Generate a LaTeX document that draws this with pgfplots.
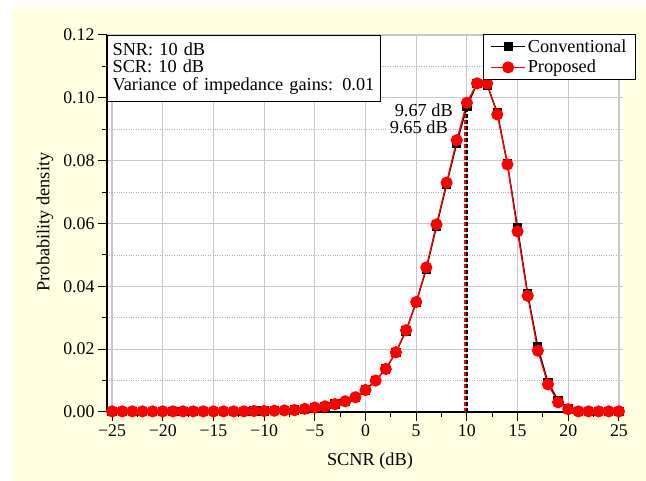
\documentclass[border=0pt]{standalone}
\usepackage{fontspec}
\setmainfont{Liberation Serif}
\usepackage{pgfplots}
\pgfplotsset{compat=1.18}
\definecolor{bgyellow}{RGB}{255,255,226}
\definecolor{gridgray}{RGB}{200,200,200}
\newcommand{\lbl}{\fontsize{18.3}{17.5}\selectfont}
\newcommand{\tlbl}{\fontsize{17.8}{18}\selectfont}

\begin{document}
\begin{tikzpicture}
\path[use as bounding box] (0pt,0pt) rectangle (646pt,481pt);
\fill[bgyellow] (12pt,0pt) rectangle (646pt,474pt);
\begin{axis}[
  at={(107pt,69pt)}, anchor=south west,
  scale only axis, width=516pt, height=377pt,
  xmin=-25.5, xmax=25.4, ymin=0, ymax=0.12,
  clip=false,
  axis background/.style={fill=white},
  axis x line*=bottom, axis y line*=left,
  axis line style={black, line width=1.2pt, -},
  tick align=outside,
  major tick length=9pt, minor tick length=5pt,
  tick style={black, line width=1pt},
  xtick={-25,-20,-15,-10,-5,0,5,10,15,20,25},
  xticklabels={−25,−20,−15,−10,−5,0,5,10,15,20,25},
  ytick={0,0.02,0.04,0.06,0.08,0.10,0.12},
  yticklabels={0.00,0.02,0.04,0.06,0.08,0.10,0.12},
  minor x tick num=1, minor y tick num=1,
  xmajorgrids, ymajorgrids, yminorgrids,
  major grid style={gridgray, line width=1.2pt},
  minor grid style={gray!60, dotted, line width=0.8pt},
  tick label style={font=\tlbl},
  xlabel={SCNR (dB)}, ylabel={Probability density},
  label style={font=\lbl},
  xlabel style={at={(axis description cs:0.5097,-0.13)}, anchor=center},
  ylabel style={at={(axis description cs:-0.1202,0.504)}, anchor=center},
  legend style={at={(rel axis cs:1.0252,1.0027)}, anchor=north east, draw=black, line width=1.2pt, fill=white, font=\lbl, inner xsep=7pt, inner ysep=3pt, row sep=2.5pt},
  legend cell align=left,
  legend image code/.code={\draw[mark repeat=2,mark phase=2] plot coordinates {(0pt,0pt) (17pt,0pt) (34pt,0pt)};},
]
\addplot[black, dash pattern=on 4pt off 2pt, line width=1.5pt, forget plot] coordinates {(10.03,0) (10.03,0.097)};
\addplot[red, dash pattern=on 4pt off 2pt, line width=1.5pt, forget plot] coordinates {(9.80,0) (9.80,0.096)};

\addplot[black, line width=1.3pt, mark=square*, mark size=4pt, mark options={solid}] coordinates {
(-25,0.0002) (-24,0.0002) (-23,0.0002) (-22,0.0002) (-21,0.0002) (-20,0.0002)
(-19,0.0002) (-18,0.0002) (-17,0.0002) (-16,0.0002) (-15,0.0002) (-14,0.0002)
(-13,0.0002) (-12,0.0002) (-11,0.0003) (-10,0.0003) (-9,0.0004) (-8,0.0005)
(-7,0.0006) (-6,0.0009) (-5,0.0013) (-4,0.0018) (-3,0.0025) (-2,0.0034)
(-1,0.0047) (0,0.0070) (1,0.0100) (2,0.0137) (3,0.0190) (4,0.0258)
(5,0.0348) (6,0.0455) (7,0.0590) (8,0.0725) (9,0.0855) (10,0.0972)
(11,0.1045) (12,0.1040) (13,0.0953) (14,0.0790) (15,0.0586) (16,0.0376)
(17,0.0207) (18,0.0094) (19,0.0037) (20,0.0010) (21,0.0002) (22,0.0002)
(23,0.0002) (24,0.0002) (25,0.0002)
};
\addlegendentry{Conventional}
\addplot[red, line width=1.3pt, mark=*, mark size=5.4pt, mark options={solid}] coordinates {
(-25,0.0002) (-24,0.0002) (-23,0.0002) (-22,0.0002) (-21,0.0002) (-20,0.0002)
(-19,0.0002) (-18,0.0002) (-17,0.0002) (-16,0.0002) (-15,0.0002) (-14,0.0002)
(-13,0.0002) (-12,0.0002) (-11,0.0003) (-10,0.0003) (-9,0.0004) (-8,0.0005)
(-7,0.0006) (-6,0.0010) (-5,0.0014) (-4,0.0018) (-3,0.0025) (-2,0.0034)
(-1,0.0047) (0,0.0070) (1,0.0100) (2,0.0137) (3,0.0190) (4,0.0260)
(5,0.0350) (6,0.0460) (7,0.0597) (8,0.0730) (9,0.0865) (10,0.0984)
(11,0.1046) (12,0.1046) (13,0.0947) (14,0.0788) (15,0.0575) (16,0.0370)
(17,0.0195) (18,0.0088) (19,0.0031) (20,0.0009) (21,0.0002) (22,0.0002)
(23,0.0002) (24,0.0002) (25,0.0002)
};
\addlegendentry{Proposed}

\node[anchor=base east, inner sep=0pt, font=\lbl] at (axis cs:8.63,0.0942) {9.67 dB};
\node[anchor=base east, inner sep=0pt, font=\lbl] at (axis cs:8.13,0.0888) {9.65 dB};

\node[draw=black, line width=1.2pt, fill=white, anchor=north west, inner xsep=5pt, inner ysep=7pt, align=left, text width=263pt, font=\lbl] at (rel axis cs:0,1) {SNR: 10 dB\\SCR: 10 dB\\Variance of impedance gains: 0.01};
\end{axis}
\end{tikzpicture}
\end{document}
